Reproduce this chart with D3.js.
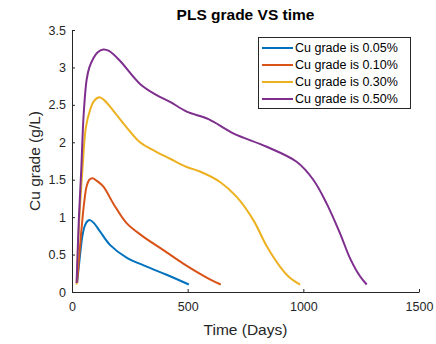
<!DOCTYPE html>
<html lang="en">
<head>
  <meta charset="UTF-8">
  <title>PLS grade VS time</title>
  <script src="https://d3js.org/d3.v7.min.js"></script>
  <style>
    body { margin: 0; background: white; font-family: "Liberation Sans", Arial, Helvetica, sans-serif; }
    .tick text { font-size: 12.5px; fill: #262626; }
    .tick line, .domain { stroke: #262626; }
  </style>
</head>
<body>
<svg id="svg"></svg>
<script>
// Data
const names = ["Cu grade is 0.05%", "Cu grade is 0.10%", "Cu grade is 0.30%", "Cu grade is 0.50%"];
const colours = ["#0072BD", "#D95319", "#EDB120", "#7E2F8E"];

const tBlue = [22, 35, 45, 56, 68, 78, 95, 121, 164, 236, 323, 409, 505];
const vBlue = [0.12, 0.5, 0.75, 0.89, 0.95, 0.96, 0.92, 0.81, 0.63, 0.46, 0.34, 0.23, 0.10];

const tRed = [22, 33, 42, 52, 63, 75, 89, 105, 135, 179, 236, 308, 395, 481, 590, 643];
const vRed = [0.12, 0.55, 0.87, 1.18, 1.41, 1.5, 1.52, 1.49, 1.41, 1.18, 0.92, 0.74, 0.56, 0.38, 0.18, 0.10];

const tYellow = [20, 32, 45, 60, 78, 95, 118, 140, 179, 236, 294, 366, 424, 496, 553, 640, 712, 784, 842, 899, 942, 986];
const vYellow = [0.1, 1.0, 1.63, 2.2, 2.43, 2.55, 2.6, 2.56, 2.42, 2.2, 2.0, 1.87, 1.78, 1.67, 1.61, 1.47, 1.27, 0.96, 0.61, 0.34, 0.19, 0.10];

const tPurple = [20, 30, 40, 50, 63, 75, 92, 110, 135, 160, 207, 294, 366, 424, 496, 590, 697, 842, 971, 1043, 1101, 1159, 1202, 1245, 1274];
const vPurple = [0.12, 1.0, 1.63, 2.35, 2.83, 3.0, 3.12, 3.2, 3.24, 3.22, 3.09, 2.78, 2.63, 2.54, 2.41, 2.31, 2.12, 1.94, 1.74, 1.5, 1.18, 0.78, 0.45, 0.21, 0.10];

const xTicks = [0, 500, 1000, 1500];
const yTicks = [0, 0.5, 1, 1.5, 2, 2.5, 3, 3.5];

const series = [
  {name: names[0], colour: colours[0], t: tBlue, v: vBlue},
  {name: names[1], colour: colours[1], t: tRed, v: vRed},
  {name: names[2], colour: colours[2], t: tYellow, v: vYellow},
  {name: names[3], colour: colours[3], t: tPurple, v: vPurple}
];

const width = 436, height = 344;
const margin = {left: 72, right: 17, top: 30, bottom: 52};

const svg = d3.select("#svg").attr("width", width).attr("height", height);

const x = d3.scaleLinear().domain([0, 1500]).range([margin.left, width - margin.right]);
const y = d3.scaleLinear().domain([0, 3.5]).range([height - margin.bottom, margin.top]);

// axes, ticks inside like matlab
svg.append("g")
  .attr("transform", `translate(0,${height - margin.bottom})`)
  .call(d3.axisBottom(x).tickValues(xTicks).tickSizeInner(-3).tickSizeOuter(0).tickFormat(d3.format("")))
  .call(g => g.selectAll(".tick text").attr("dy", "0.71em").attr("y", 10));

svg.append("g")
  .attr("transform", `translate(${margin.left},0)`)
  .call(d3.axisLeft(y).tickValues(yTicks).tickSizeInner(-3).tickSizeOuter(0).tickFormat(d3.format("")))
  .call(g => g.selectAll(".tick text").attr("x", -6));

// lines
const line = d3.line()
  .x(d => x(d[0]))
  .y(d => y(d[1]))
  .curve(d3.curveCatmullRom.alpha(0.5));

svg.selectAll(".series")
  .data(series)
  .join("path")
  .attr("class", "series")
  .attr("fill", "none")
  .attr("stroke", d => d.colour)
  .attr("stroke-width", 2)
  .attr("stroke-linejoin", "round")
  .attr("d", d => line(d.t.map((t, i) => [t, d.v[i]])));

// title and labels
svg.append("text")
  .attr("x", (margin.left + width - margin.right) / 2)
  .attr("y", 20)
  .attr("text-anchor", "middle")
  .attr("font-weight", "bold")
  .attr("font-size", "15.5px")
  .attr("fill", "black")
  .text("PLS grade VS time");

svg.append("text")
  .attr("x", (margin.left + width - margin.right) / 2)
  .attr("y", 335)
  .attr("text-anchor", "middle")
  .attr("font-size", "15.5px")
  .attr("fill", "#262626")
  .text("Time (Days)");

svg.append("text")
  .attr("transform", `translate(40,${(margin.top + height - margin.bottom) / 2}) rotate(-90)`)
  .attr("text-anchor", "middle")
  .attr("font-size", "15.5px")
  .attr("fill", "#262626")
  .text("Cu grade (g/L)");

// legend
const legend = svg.append("g");
legend.append("rect")
  .attr("x", 258.5).attr("y", 37.5)
  .attr("width", 152).attr("height", 71)
  .attr("fill", "white")
  .attr("stroke", "#262626")
  .attr("stroke-width", 1);

const row = legend.selectAll(".row")
  .data(series)
  .join("g")
  .attr("class", "row")
  .attr("transform", (d, i) => `translate(0,${48 + i * 17})`);

row.append("line")
  .attr("x1", 262).attr("x2", 293)
  .attr("stroke", d => d.colour)
  .attr("stroke-width", 2);

row.append("text")
  .attr("x", 295)
  .attr("dy", "0.35em")
  .attr("font-size", "12.5px")
  .attr("fill", "black")
  .text(d => d.name);
</script>
</body>
</html>
